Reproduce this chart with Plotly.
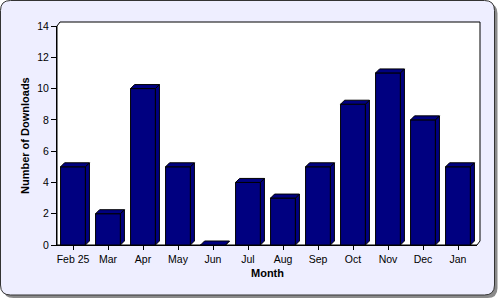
import plotly.graph_objects as go

# ---- data ----
months = ["Feb 25", "Mar", "Apr", "May", "Jun", "Jul", "Aug", "Sep", "Oct", "Nov", "Dec", "Jan"]
downloads = [5, 2, 10, 5, 0, 4, 3, 5, 9, 11, 8, 5]
y_ticks = [0, 2, 4, 6, 8, 10, 12, 14]

# ---- layout geometry (pixels) ----
FW, FH = 500, 300
L, R, T, B = 57, 20, 22, 55          # plot area = back wall + front faces bounding box
PW, PH = FW - L - R, FH - T - B       # 423 x 223
DX_WALL, DY_WALL = 3, 4               # back wall offset
FRONT_W, FRONT_H = PW - DX_WALL, PH - DY_WALL

X_RANGE = [-0.457, 11.543]
Y_RANGE = [0, 14]
px_per_cat = FRONT_W / (X_RANGE[1] - X_RANGE[0])
px_per_unit = FRONT_H / (Y_RANGE[1] - Y_RANGE[0])

BAR_W = 0.71
DEPTH_PX = 4
ddx = DEPTH_PX / px_per_cat
ddy = DEPTH_PX / px_per_unit

NAVY = "#000080"
FONT = "Liberation Sans, Arial, sans-serif"


def fx(px):
    return (px - L) / PW


def fy(py):
    return (FH - B - py) / PH


xs = list(range(len(months)))

# 3D top and side faces computed from the data
top_x, top_y, side_x, side_y = [], [], [], []
for i, v in zip(xs, downloads):
    x0, x1 = i - BAR_W / 2, i + BAR_W / 2
    top_x += [x0, x1, x1 + ddx, x0 + ddx, x0, None]
    top_y += [v, v, v + ddy, v + ddy, v, None]
    side_x += [x1, x1 + ddx, x1 + ddx, x1, x1, None]
    side_y += [0, ddy, v + ddy, v, 0, None]

fig = go.Figure()
fig.add_trace(go.Bar(
    x=xs, y=downloads, width=BAR_W, xaxis="x2", yaxis="y2",
    marker=dict(color=NAVY, line=dict(color="black", width=1)),
    hoverinfo="skip", showlegend=False,
))
fig.add_trace(go.Scatter(
    x=side_x, y=side_y, xaxis="x2", yaxis="y2", mode="lines", fill="toself",
    fillcolor=NAVY, line=dict(color="black", width=1), hoverinfo="skip", showlegend=False,
))
fig.add_trace(go.Scatter(
    x=top_x, y=top_y, xaxis="x2", yaxis="y2", mode="lines", fill="toself",
    fillcolor=NAVY, line=dict(color="black", width=1), hoverinfo="skip", showlegend=False,
))


def rrect(x0, y0, x1, y1, r):
    # rounded rectangle path in paper coordinates from pixel box
    p = []
    p.append(f"M {fx(x0 + r)},{fy(y0)}")
    p.append(f"L {fx(x1 - r)},{fy(y0)}")
    p.append(f"Q {fx(x1)},{fy(y0)} {fx(x1)},{fy(y0 + r)}")
    p.append(f"L {fx(x1)},{fy(y1 - r)}")
    p.append(f"Q {fx(x1)},{fy(y1)} {fx(x1 - r)},{fy(y1)}")
    p.append(f"L {fx(x0 + r)},{fy(y1)}")
    p.append(f"Q {fx(x0)},{fy(y1)} {fx(x0)},{fy(y1 - r)}")
    p.append(f"L {fx(x0)},{fy(y0 + r)}")
    p.append(f"Q {fx(x0)},{fy(y0)} {fx(x0 + r)},{fy(y0)}")
    p.append("Z")
    return " ".join(p)


fl, ft = L, T + DY_WALL           # front top-left
fr, fb = L + FRONT_W, FH - B       # front bottom-right
wall_path = (f"M {fx(fl)},{fy(fb)} L {fx(fl)},{fy(ft)} L {fx(fl + DX_WALL)},{fy(T)} "
             f"L {fx(FW - R)},{fy(T)} L {fx(FW - R)},{fy(fb - DY_WALL)} L {fx(fr)},{fy(fb)} Z")

shapes = [
    dict(type="path", xref="paper", yref="paper", layer="below",
         path=rrect(3.5, 3.5, 497.5, 298, 10), fillcolor="#8a8a8a", line=dict(width=0)),
    dict(type="path", xref="paper", yref="paper", layer="below",
         path=rrect(0.5, 0.5, 494.5, 295, 10), fillcolor="#EEEEFF",
         line=dict(color="#333333", width=1)),
    dict(type="path", xref="paper", yref="paper", layer="below",
         path=wall_path, fillcolor="white", line=dict(color="black", width=1)),
]

fig.update_layout(
    width=FW, height=FH,
    margin=dict(l=L, r=R, t=T, b=B, pad=0),
    paper_bgcolor="white", plot_bgcolor="white",
    font=dict(family=FONT, size=10.5, color="black"),
    showlegend=False,
    shapes=shapes,
    # back wall (grid)
    xaxis=dict(domain=[DX_WALL / PW, 1], range=X_RANGE, anchor="y",
               tickmode="array", tickvals=xs, showticklabels=False, ticks="",
               showgrid=True, gridcolor="#C0C0C0", gridwidth=1, zeroline=False,
               showline=True, mirror=True, linecolor="black", linewidth=1, fixedrange=True),
    yaxis=dict(domain=[DY_WALL / PH, 1], range=Y_RANGE, anchor="x",
               tickmode="array", tickvals=y_ticks, showticklabels=False, ticks="",
               showgrid=True, gridcolor="#C0C0C0", gridwidth=1, zeroline=False,
               showline=True, mirror=True, linecolor="black", linewidth=1, fixedrange=True),
    # front (bars, ticks, labels)
    xaxis2=dict(domain=[0, FRONT_W / PW], range=X_RANGE, anchor="y2",
                tickmode="array", tickvals=xs, ticktext=months,
                ticks="outside", ticklen=4, tickcolor="black", tickwidth=1,
                showgrid=False, zeroline=False, showline=True, linecolor="black", linewidth=1,
                tickfont=dict(family=FONT, size=10.5, color="black"), fixedrange=True),
    yaxis2=dict(domain=[0, FRONT_H / PH], range=Y_RANGE, anchor="x2",
                tickmode="array", tickvals=y_ticks, ticktext=[str(t) for t in y_ticks],
                ticks="outside", ticklen=5, tickcolor="black", tickwidth=1,
                showgrid=False, zeroline=False, showline=True, linecolor="black", linewidth=1,
                tickfont=dict(family=FONT, size=10.5, color="black"), fixedrange=True),
    annotations=[
        dict(text="<b>Month</b>", xref="paper", yref="paper",
             x=fx(L + FRONT_W / 2), y=fy(273), xanchor="center", yanchor="middle",
             showarrow=False, font=dict(family=FONT, size=11, color="black")),
        dict(text="<b>Number of Downloads</b>", xref="paper", yref="paper",
             x=fx(25), y=fy(136), xanchor="center", yanchor="middle", textangle=-90,
             showarrow=False, font=dict(family=FONT, size=11, color="black")),
    ],
)

fig.write_html("out.html", config={"displayModeBar": False})
